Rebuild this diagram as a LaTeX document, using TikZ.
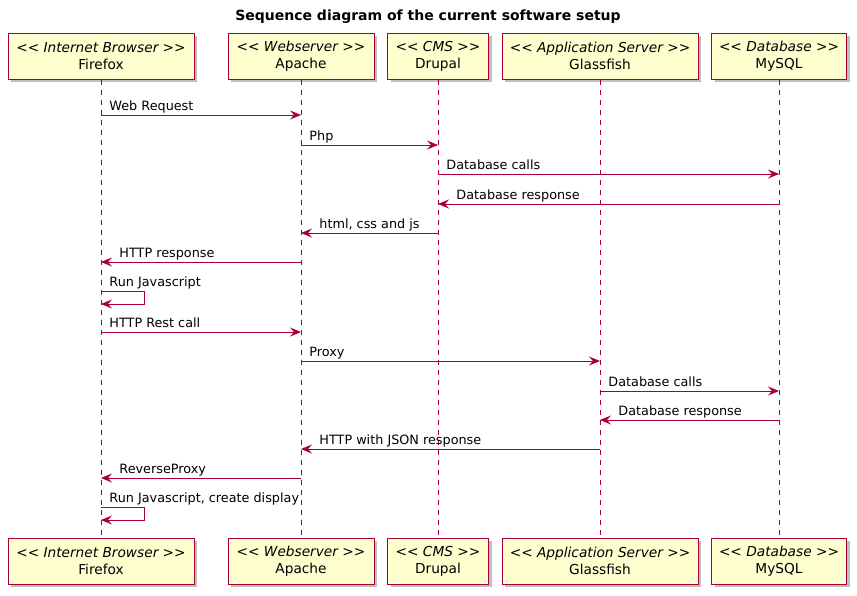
\documentclass[tikz,border=0pt]{standalone}
\usepackage{fontspec}
\setmainfont{DejaVu Sans}
\usepackage{tikz}
\usetikzlibrary{arrows.meta}
\usetikzlibrary{shadows}
\usepackage{xcolor}
\definecolor{umlred}{HTML}{A80036}
\definecolor{umlfill}{HTML}{FEFECE}
\newcommand\stleft{<\kern0pt<}
\newcommand\stright{>\kern0pt>}
\tikzset{
	actor/.style={draw=umlred, fill=umlfill, line width=1pt, align=center,
		minimum height=46pt, inner xsep=0pt, font=\fontsize{13.7}{17}\selectfont,
		drop shadow={shadow xshift=3pt, shadow yshift=-3pt, fill=black, opacity=0.25}},
	life/.style={umlred, line width=0.8pt, dash pattern=on 5pt off 5pt},
	msg/.style={umlred, line width=0.9pt, -{Stealth[length=11pt, width=9pt, inset=4pt]}},
	lbl/.style={anchor=base west, inner sep=0pt, text=black, font=\fontsize{12.8}{15}\selectfont}
}

\begin{document}
\begin{tikzpicture}[x=1pt, y=-1pt]
			\useasboundingbox (0,0) rectangle (857,595);
			\node[font=\bfseries\fontsize{14}{16}\selectfont] (title) at (428,17) {Sequence diagram of the current software setup};
			\foreach \n/\x/\w/\st/\nm in {ff/101/186/Internet Browser/Firefox, ap/301/146/Webserver/Apache,
				dr/438/101/CMS/Drupal, gf/600/196/Application Server/Glassfish, my/779/135/Database/MySQL}
			{
				\node[actor, minimum width=\w pt] (\n-top) at (\x,56) {\textit{\stleft{} \st\ \stright}\\\nm};
				\node[actor, minimum width=\w pt] (\n-bot) at (\x,561) {\textit{\stleft{} \st\ \stright}\\\nm};
				\draw[life] (\n-top) -- (\n-bot);
			}
			\foreach \a/\b/\p/\s/\y/\t in {ff/ap/0/8/115/Web Request, ap/dr/0/8/145/Php,
				dr/my/0/8/174/Database calls, my/dr/1/18/204/Database response,
				{dr/ap/1/18/233/html, css and js}, ap/ff/1/18/262/HTTP response,
				ff/ap/0/8/332/HTTP Rest call, ap/gf/0/8/361/Proxy,
				gf/my/0/8/391/Database calls, my/gf/1/18/420/Database response,
				gf/ap/1/18/449/HTTP with JSON response, ap/ff/1/18/478/ReverseProxy}
			\draw[msg] (\a-top.south |- 0,\y) -- (\b-top.south |- 0,\y)
				node[lbl, pos=\p, xshift=\s pt, yshift=5pt] {\t};
			\foreach \y/\t in {291/Run Javascript, {507/Run Javascript, create display}}
			\draw[msg] (ff-top.south |- 0,\y) node[lbl, xshift=8pt, yshift=5pt] {\t}
				-- ++(43,0) -- ++(0,13) -- (ff-top.south |- 0,\y+13);
		\end{tikzpicture}
\end{document}
